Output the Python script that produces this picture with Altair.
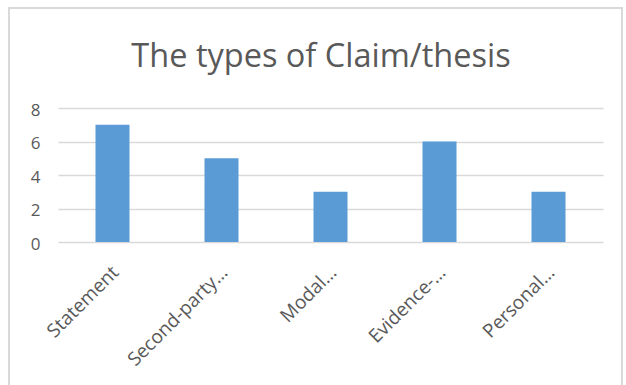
import altair as alt
import pandas as pd

# Claim/thesis categories (axis labels as shown, truncated) and their counts
categories = ["Statement", "Second-party…", "Modal…", "Evidence-…", "Personal…"]
counts = [7, 5, 3, 6, 3]
title_text = ["The types of Claim/thesis"]

df = pd.DataFrame({"category": categories, "count": counts})

FONT = "Open Sans"
GREY = "#595959"

# light grey frame around the whole chart
frame = alt.Chart(pd.DataFrame({"k": [0]})).mark_rect(
    fill="transparent", stroke="#d9d9d9", strokeWidth=2
).encode(
    x=alt.value(-49), x2=alt.value(564),
    y=alt.value(-100), y2=alt.value(300),
)

# chart title drawn inside the frame
title = alt.Chart(pd.DataFrame({"t": title_text})).mark_text(
    font=FONT, fontSize=32.5, color=GREY, align="center", baseline="alphabetic"
).encode(
    text="t:N",
    x=alt.value(263),
    y=alt.value(-41),
)

bars = alt.Chart(df).mark_bar(color="#5B9BD5", size=34).encode(
    x=alt.X(
        "category:N",
        sort=categories,
        title=None,
        scale=alt.Scale(paddingInner=0.0, paddingOuter=0.0),
        axis=alt.Axis(
            labelAngle=-45,
            labelAlign="right",
            labelBaseline="middle",
            labelPadding=27,
            labelOffset=3,
            labelFontSize=19,
            labelColor=GREY,
            labelFont=FONT,
            ticks=False,
            domain=False,
            grid=False,
        ),
    ),
    y=alt.Y(
        "count:Q",
        title=None,
        scale=alt.Scale(domain=[0, 8]),
        axis=alt.Axis(
            values=[0, 2, 4, 6, 8],
            labelFontSize=17,
            labelColor=GREY,
            labelFont=FONT,
            labelPadding=18,
            labelBaseline="middle",
            labelOffset=2,
            ticks=False,
            domain=False,
            gridColor="#d9d9d9",
            gridWidth=1.5,
        ),
    ),
)

chart = alt.layer(frame, title, bars).properties(
    width=545,
    height=134,
    background="white",
    padding={"left": 58, "top": 108, "right": 23, "bottom": 143},
    autosize=alt.AutoSizeParams(type="none"),
).configure_view(strokeWidth=0)

chart.save("out.html", embed_options={"renderer": "svg", "actions": False})
